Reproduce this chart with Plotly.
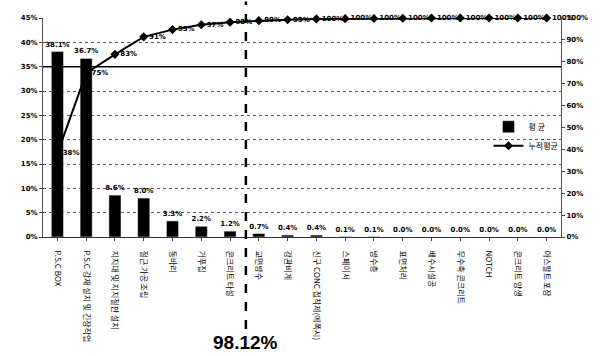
import plotly.graph_objects as go

categories = ["P.S.C BOX", "P.S.C 강재 설치 및 긴장작업", "지지대 및 지지철판 설치", "철근 가공 조립",
              "동바리", "거푸집", "콘크리트 타설", "교면방수", "강관비계", "신구 CONC 접착제(에폭시)",
              "스페이서", "방수층", "표면처리", "배수시설공", "무수축 콘크리트", "NOTCH",
              "콘크리트 양생", "아스팔트 포장"]
avg_pct = [38.1, 36.7, 8.6, 8.0, 3.3, 2.2, 1.2, 0.7, 0.4, 0.4, 0.1, 0.1, 0.0, 0.0, 0.0, 0.0, 0.0, 0.0]
cum_pct = [38.1, 74.8, 83.4, 91.4, 94.7, 96.9, 98.1, 98.8, 99.2, 99.6, 99.7, 99.8, 99.9, 100, 100, 100, 100, 100]
left_ticks = [0, 5, 10, 15, 20, 25, 30, 35, 40, 45]
right_ticks = [0, 10, 20, 30, 40, 50, 60, 70, 80, 90, 100]
threshold_label = "98.12%"

FONT = "Noto Sans CJK KR, DejaVu Sans, sans-serif"

fig = go.Figure()
fig.add_trace(go.Bar(
    x=categories, y=avg_pct, name="평 균", marker_color="black", width=0.42,
    text=[f"<b>{v:.1f}%</b>" for v in avg_pct], textposition="outside", constraintext="none",
    textfont=dict(size=7, color="black", family="DejaVu Sans"), cliponaxis=False,
))
fig.add_trace(go.Scatter(
    x=categories, y=cum_pct, name="누적평균", yaxis="y2", mode="lines+markers+text",
    line=dict(color="black", width=2), marker=dict(symbol="diamond", size=7, color="black"),
    text=[f"<b>{round(v):.0f}%</b>" for v in cum_pct], textposition="middle right",
    textfont=dict(size=7, color="black", family="DejaVu Sans"), cliponaxis=False,
))

# solid reference line and dashed cut-off line
fig.add_shape(type="line", xref="paper", yref="y", x0=0, x1=1, y0=35, y1=35,
              line=dict(color="black", width=1.5))
fig.add_shape(type="line", xref="x", yref="paper", x0=6.55, x1=6.55, y0=-0.42, y1=1.075,
              line=dict(color="black", width=2.5, dash="dash"))
fig.add_annotation(x=6.55, xref="x", y=-0.48, yref="paper", text=f"<b>{threshold_label}</b>",
                   showarrow=False, yanchor="middle",
                   font=dict(size=19, color="black", family="Liberation Sans Narrow, Arial Narrow, sans-serif"))

fig.update_layout(
    width=607, height=356, margin=dict(l=43, r=46, t=18, b=119, autoexpand=False),
    paper_bgcolor="white", plot_bgcolor="white",
    font=dict(family=FONT, size=8, color="black"),
    showlegend=True,
    legend=dict(x=0.86, y=0.46, xanchor="left", yanchor="middle", bgcolor="rgba(0,0,0,0)",
                font=dict(size=8, family=FONT), tracegroupgap=2, itemwidth=30),
    xaxis=dict(range=[-0.5, 17.5], tickangle=90, tickfont=dict(size=8), showline=True, linecolor="#333",
               linewidth=1, ticks="outside", ticklen=3, ticklabelstandoff=8, showgrid=False,
               automargin=False),
    yaxis=dict(range=[0, 45], tickvals=left_ticks, ticktext=[f"<b>{v}%</b>" for v in left_ticks],
               tickfont=dict(size=7, family="DejaVu Sans"), showgrid=True, gridcolor="#555",
               griddash="dot", gridwidth=1, automargin=False,
               showline=True, linecolor="#555", ticks="outside", ticklen=3, zeroline=False),
    yaxis2=dict(range=[0, 100], overlaying="y", side="right", tickvals=right_ticks,
                ticktext=[f"<b>{v}%</b>" for v in right_ticks], tickfont=dict(size=7, family="DejaVu Sans"),
                showgrid=False, showline=True, linecolor="#555", ticks="outside", ticklen=3,
                zeroline=False, automargin=False),
)

fig.write_html("out.html", config={"displayModeBar": False},
               post_script="document.body.style.margin='0';document.body.style.overflow='hidden';")
